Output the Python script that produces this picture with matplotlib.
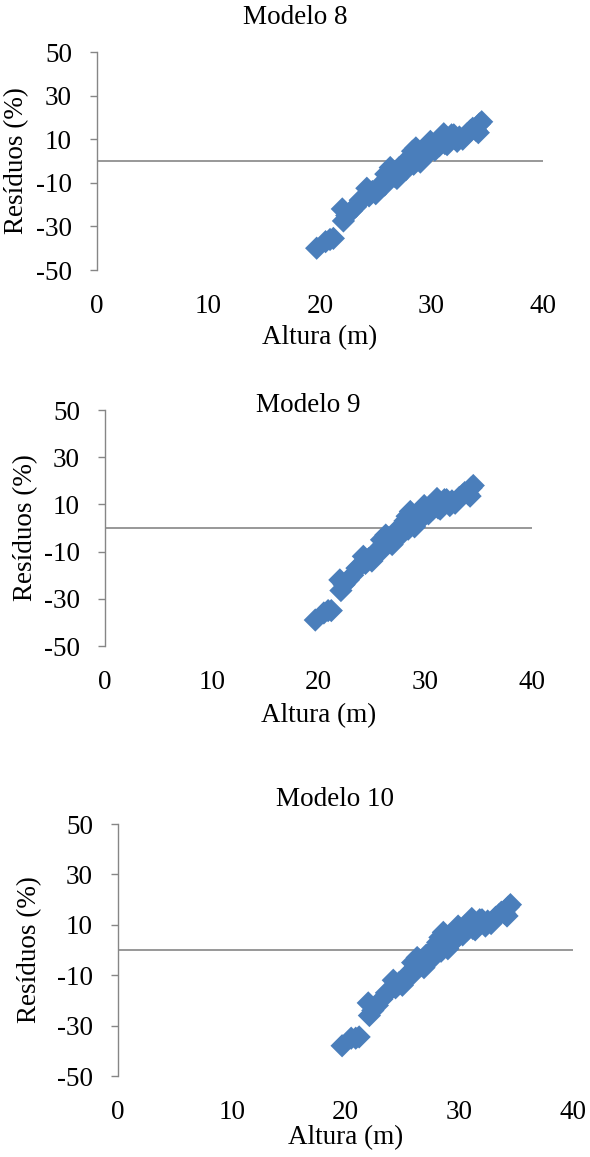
"""
Residuals (%) vs tree height for models 8, 9 and 10.
Output: out.png
"""

import matplotlib.pyplot as plt

# ── Data ──────────────────────────────────────────────────────────────────────
ALTURA = [19.7, 20.5, 20.9, 21.2, 22.0, 22.1, 22.4, 22.8, 23.2, 23.6,
          23.9, 24.2, 24.4, 24.7, 25.0, 25.2, 25.6, 25.8, 25.9, 26.1,
          26.3, 26.5, 26.7, 26.9, 27.1, 27.3, 27.5, 27.7, 27.9, 28.0,
          28.1, 28.3, 28.4, 28.6, 28.7, 28.9, 29.0, 29.2, 29.4, 29.6,
          29.8, 29.9, 30.1, 30.3, 30.5, 30.7, 30.9, 31.1, 31.2, 31.4,
          31.6, 31.8, 32.0, 32.3, 32.5, 32.8, 33.2, 33.5, 33.7, 34.0,
          34.2, 34.3, 34.5]

RES_M8 = [-40, -37, -36, -35.5, -22, -27.5, -25, -23, -21, -18,
          -17, -12.5, -16, -14, -15, -13, -10, -11, -6, -8,
          -3, -5, -7, -8, -3, -5, -2, -4, 0, -1,
          2, 4.5, -1.5, 6, 1, 3, -0.5, 5, 2, 6,
          4, 9, 7, 5, 9, 7, 11, 12.5, 8, 7.5,
          10, 12, 12, 9, 11, 10, 12.5, 14, 15, 14,
          13, 17, 18]

RES_M9 = [-39, -36, -35, -35, -22, -26.5, -24, -22, -20, -17,
          -16, -12, -15, -13, -14, -12, -9, -10, -5, -7,
          -3, -4, -6, -7, -2, -4, -1, -3, 1, 0,
          3, 5, -0.5, 7, 2, 4, 0.5, 6, 3, 7,
          5, 9.5, 8, 6, 9.5, 8, 11, 12.5, 8.5, 8,
          10.5, 12, 12, 9.5, 11.5, 10.5, 13, 14, 15, 14.5,
          13.5, 17, 18]

RES_M10 = [-38, -35, -35, -34.5, -21, -26, -24, -22, -19.5, -17,
           -16, -12, -15, -13, -14, -12, -9, -10, -5, -7,
           -3, -4, -6, -7, -2, -4, -1, -3, 1, 0,
           3, 5, -0.5, 7, 2, 4, 0.5, 6, 3, 7,
           5, 9.5, 8, 6, 9.5, 8, 11, 12.5, 8.5, 8,
           10.5, 12, 12, 9.5, 11.5, 10.5, 13, 14, 15, 14.5,
           13.5, 17, 18]

TITLES = ["Modelo 8", "Modelo 9", "Modelo 10"]
X_TICKS = [0, 10, 20, 30, 40]
Y_TICKS = [-50, -30, -10, 10, 30, 50]

# ── Style ─────────────────────────────────────────────────────────────────────
W, H = 590, 1157
FS = 19.5
BLUE = "#4A7EBB"
GREY = "#868686"

plt.rcParams["font.family"] = ["Liberation Serif", "DejaVu Serif"]
plt.rcParams["axes.unicode_minus"] = False

# panel geometry in pixels: left, right (x=40), top (y=50), bottom (y=-50)
PANELS = [(97, 543, 52, 270), (105, 532, 410, 646), (118, 573, 824, 1076)]
TITLE_POS = [(295, 17), (308, 405), (335, 800)]
XLABEL_Y = [338, 716, 1138]
YLABEL_X = [17, 26, 30]


def make_panel(fig, box, resid, title, title_pos, xlabel_y, ylabel_x):
    left, right, top, bottom = box
    ax = fig.add_axes([left / W, 1 - bottom / H,
                       (right - left) / W, (bottom - top) / H])
    ax.scatter(ALTURA, resid, marker="D", s=140, color=BLUE,
               edgecolors="none", zorder=3, clip_on=False)
    ax.axhline(0, color=GREY, lw=1.2, zorder=2)

    ax.set_xlim(0, 40)
    ax.set_ylim(-50, 50)
    ax.set_xticks(X_TICKS)
    ax.set_yticks(Y_TICKS)
    ax.tick_params(axis="x", length=0, pad=17, labelsize=FS)
    ax.tick_params(axis="y", length=5, width=1, color=GREY, pad=13,
                   labelsize=FS)
    for side in ("top", "right", "bottom"):
        ax.spines[side].set_visible(False)
    ax.spines["left"].set_color(GREY)
    ax.spines["left"].set_linewidth(1.0)

    fig.text(title_pos[0] / W, 1 - title_pos[1] / H, title,
             ha="center", va="center", fontsize=FS)
    fig.text((left + right) / 2 / W, 1 - xlabel_y / H, "Altura (m)",
             ha="center", va="center", fontsize=FS)
    fig.text(ylabel_x / W, 1 - (top + bottom) / 2 / H, "Resíduos (%)",
             ha="center", va="center", rotation=90, fontsize=FS)


def main():
    fig = plt.figure(figsize=(W / 100, H / 100), dpi=100)
    series = [RES_M8, RES_M9, RES_M10]
    for i in range(3):
        make_panel(fig, PANELS[i], series[i], TITLES[i], TITLE_POS[i],
                   XLABEL_Y[i], YLABEL_X[i])
    fig.savefig("out.png", dpi=100)
    plt.close(fig)


if __name__ == "__main__":
    main()
